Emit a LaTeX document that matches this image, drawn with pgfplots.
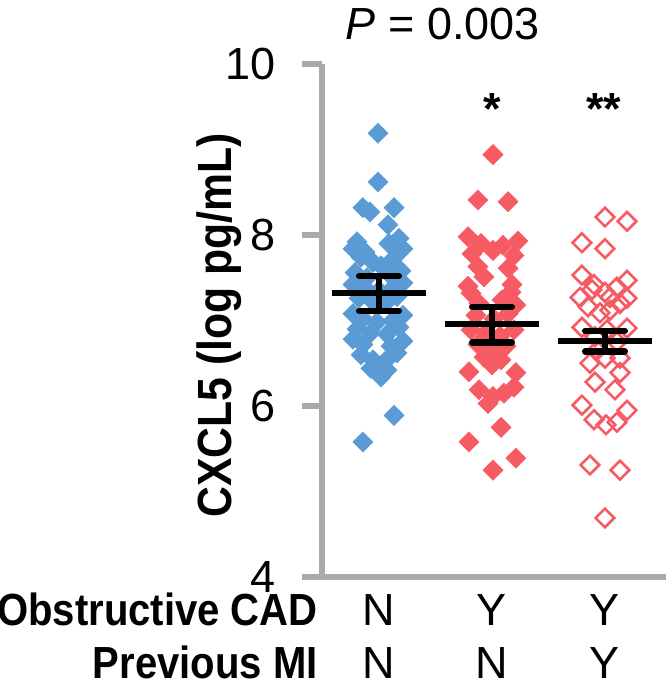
\documentclass[border=0pt]{standalone}
\usepackage{fontspec}
\setmainfont{Liberation Sans}
\newfontfamily\bnarrow{Liberation Sans}[FakeStretch=0.89]
\usepackage{pgfplots}
\pgfplotsset{compat=1.18}
\usepackage{pgfplotstable}
\definecolor{cblue}{HTML}{5B9BD5}
\definecolor{cred}{HTML}{F65A62}
\definecolor{cgray}{HTML}{AAAAAA}
\newcommand{\bigfs}{\fontsize{45}{54}\selectfont}

\pgfplotstableread{
x y
0.991 9.19
0.991 8.62
0.858 8.32
0.920 8.27
1.133 8.32
1.080 8.12
0.805 7.92
1.177 7.96
1.088 7.90
0.770 7.84
0.876 7.80
1.212 7.84
0.841 7.74
0.947 7.68
1.124 7.72
1.018 7.64
0.788 7.56
0.894 7.50
1.195 7.58
1.106 7.52
0.770 7.42
0.876 7.38
1.000 7.35
1.212 7.44
1.106 7.36
0.823 7.26
0.947 7.22
1.159 7.28
1.053 7.20
0.770 7.08
0.858 7.02
1.212 7.06
1.124 7.00
0.982 6.98
0.805 6.90
0.929 6.86
1.177 6.92
1.071 6.84
0.770 6.78
0.858 6.72
1.212 6.76
1.106 6.70
0.841 6.60
0.947 6.54
1.159 6.62
1.053 6.52
0.929 6.44
1.071 6.42
1.018 6.34
1.133 5.89
0.858 5.58
}\groupA

\pgfplotstableread{
x y
2.009 8.94
1.876 8.41
2.142 8.39
1.788 7.98
1.903 7.90
2.009 7.82
2.097 7.88
2.230 7.93
1.823 7.78
2.195 7.76
1.876 7.63
2.142 7.61
1.929 7.51
1.788 7.40
2.177 7.42
1.814 7.32
2.168 7.33
1.885 7.20
2.088 7.24
2.212 7.18
1.858 7.06
2.018 7.02
2.142 7.08
1.814 6.89
2.195 6.89
1.947 6.86
2.071 6.82
1.876 6.72
2.124 6.70
2.000 6.66
1.929 6.57
2.080 6.54
2.000 6.48
1.796 6.40
2.212 6.39
1.885 6.19
2.009 6.11
2.106 6.15
2.195 6.22
1.965 6.03
2.080 5.75
1.796 5.58
2.212 5.39
2.009 5.25
}\groupB

\pgfplotstableread{
x y
3.000 8.21
3.195 8.16
2.796 7.91
3.000 7.84
2.796 7.53
3.195 7.47
2.903 7.42
3.000 7.33
3.106 7.39
2.779 7.27
3.195 7.26
2.850 7.16
3.133 7.20
2.956 7.09
3.044 7.12
2.796 6.92
3.195 6.91
2.912 6.81
3.106 6.75
2.867 6.50
3.000 6.56
3.133 6.39
2.912 6.28
3.088 6.19
2.796 6.01
2.903 5.84
3.009 5.78
3.106 5.81
3.195 5.95
2.867 5.31
3.133 5.25
3.000 4.69
2.885 7.36
3.044 7.27
2.929 6.65
3.018 6.89
3.133 6.56
}\groupC

\begin{document}
\begin{tikzpicture}
\path[use as bounding box] (-322.5pt,-119pt) rectangle (343.5pt,577pt);
\begin{axis}[
  at={(0pt,0pt)}, anchor=south west,
  scale only axis, width=343.5pt, height=513pt,
  xmin=0.5, xmax=3.54, ymin=4, ymax=10,
  clip=false, clip marker paths=true,
  axis x line*=bottom, axis y line*=left,
  axis line style={draw=cgray, line width=6pt, -},
  xtick=\empty,
  ytick={4,6,8,10},
  tick align=outside,
  major tick length=20pt,
  tick style={draw=cgray, line width=6pt},
  /pgf/number format/assume math mode=true,
  tick label style={font=\bigfs},
  yticklabel style={inner sep=0pt, xshift=-27pt},
  ylabel={\bnarrow\bfseries CXCL5 (log pg/mL)},
  ylabel style={at={(axis description cs:0,0.491)}, anchor=base, yshift=90.5pt, font=\fontsize{48}{56}\selectfont, inner sep=0pt},
]
\addplot[only marks, mark=square*, mark size=7.2pt, color=cblue, mark options={rotate=45, line width=0.3pt}] table[x=x,y=y] {\groupA};
\addplot[only marks, mark=square*, mark size=7.2pt, color=cred, mark options={rotate=45, line width=0.3pt}] table[x=x,y=y] {\groupB};
\addplot[only marks, mark=square, mark size=6.6pt, color=cred, mark options={rotate=45, line width=2.6pt}] table[x=x,y=y] {\groupC};

% means
\addplot[black, line width=6.5pt] coordinates {(0.584,7.32) (1.416,7.32)};
\addplot[black, line width=6.5pt] coordinates {(1.584,6.96) (2.416,6.96)};
\addplot[black, line width=6.5pt] coordinates {(2.584,6.76) (3.416,6.76)};
% error bars
\addplot[black, line width=6.5pt] coordinates {(1,7.11) (1,7.52)};
\addplot[black, line width=6.5pt, line cap=round] coordinates {(0.825,7.52) (1.175,7.52)};
\addplot[black, line width=6.5pt, line cap=round] coordinates {(0.825,7.11) (1.175,7.11)};
\addplot[black, line width=6.5pt] coordinates {(2,6.74) (2,7.16)};
\addplot[black, line width=6.5pt, line cap=round] coordinates {(1.825,7.16) (2.175,7.16)};
\addplot[black, line width=6.5pt, line cap=round] coordinates {(1.825,6.74) (2.175,6.74)};
\addplot[black, line width=6.5pt] coordinates {(3,6.64) (3,6.88)};
\addplot[black, line width=6.5pt, line cap=round] coordinates {(2.825,6.88) (3.175,6.88)};
\addplot[black, line width=6.5pt, line cap=round] coordinates {(2.825,6.64) (3.175,6.64)};

% texts
\node[anchor=base, font=\bigfs, inner sep=0pt] at (axis cs:1.566,10.292) {\textit{P} = 0.003};
\node[anchor=north, font=\bigfs\bfseries, inner sep=0pt] at (axis cs:2,9.66) {*};
\node[anchor=north, font=\bigfs\bfseries, inner sep=0pt] at (axis cs:2.99,9.66) {**};
\node[anchor=base east, font=\bigfs\bnarrow\bfseries, inner sep=0pt] at (axis cs:0.46,3.427) {Obstructive CAD};
\node[anchor=base east, font=\bigfs\bnarrow\bfseries, inner sep=0pt] at (axis cs:0.46,2.81) {Previous MI};
\node[anchor=base, font=\bigfs, inner sep=0pt] at (axis cs:1,3.427) {N};
\node[anchor=base, font=\bigfs, inner sep=0pt] at (axis cs:2,3.427) {Y};
\node[anchor=base, font=\bigfs, inner sep=0pt] at (axis cs:3,3.427) {Y};
\node[anchor=base, font=\bigfs, inner sep=0pt] at (axis cs:1,2.81) {N};
\node[anchor=base, font=\bigfs, inner sep=0pt] at (axis cs:2,2.81) {N};
\node[anchor=base, font=\bigfs, inner sep=0pt] at (axis cs:3,2.81) {Y};
\end{axis}
\end{tikzpicture}
\end{document}
